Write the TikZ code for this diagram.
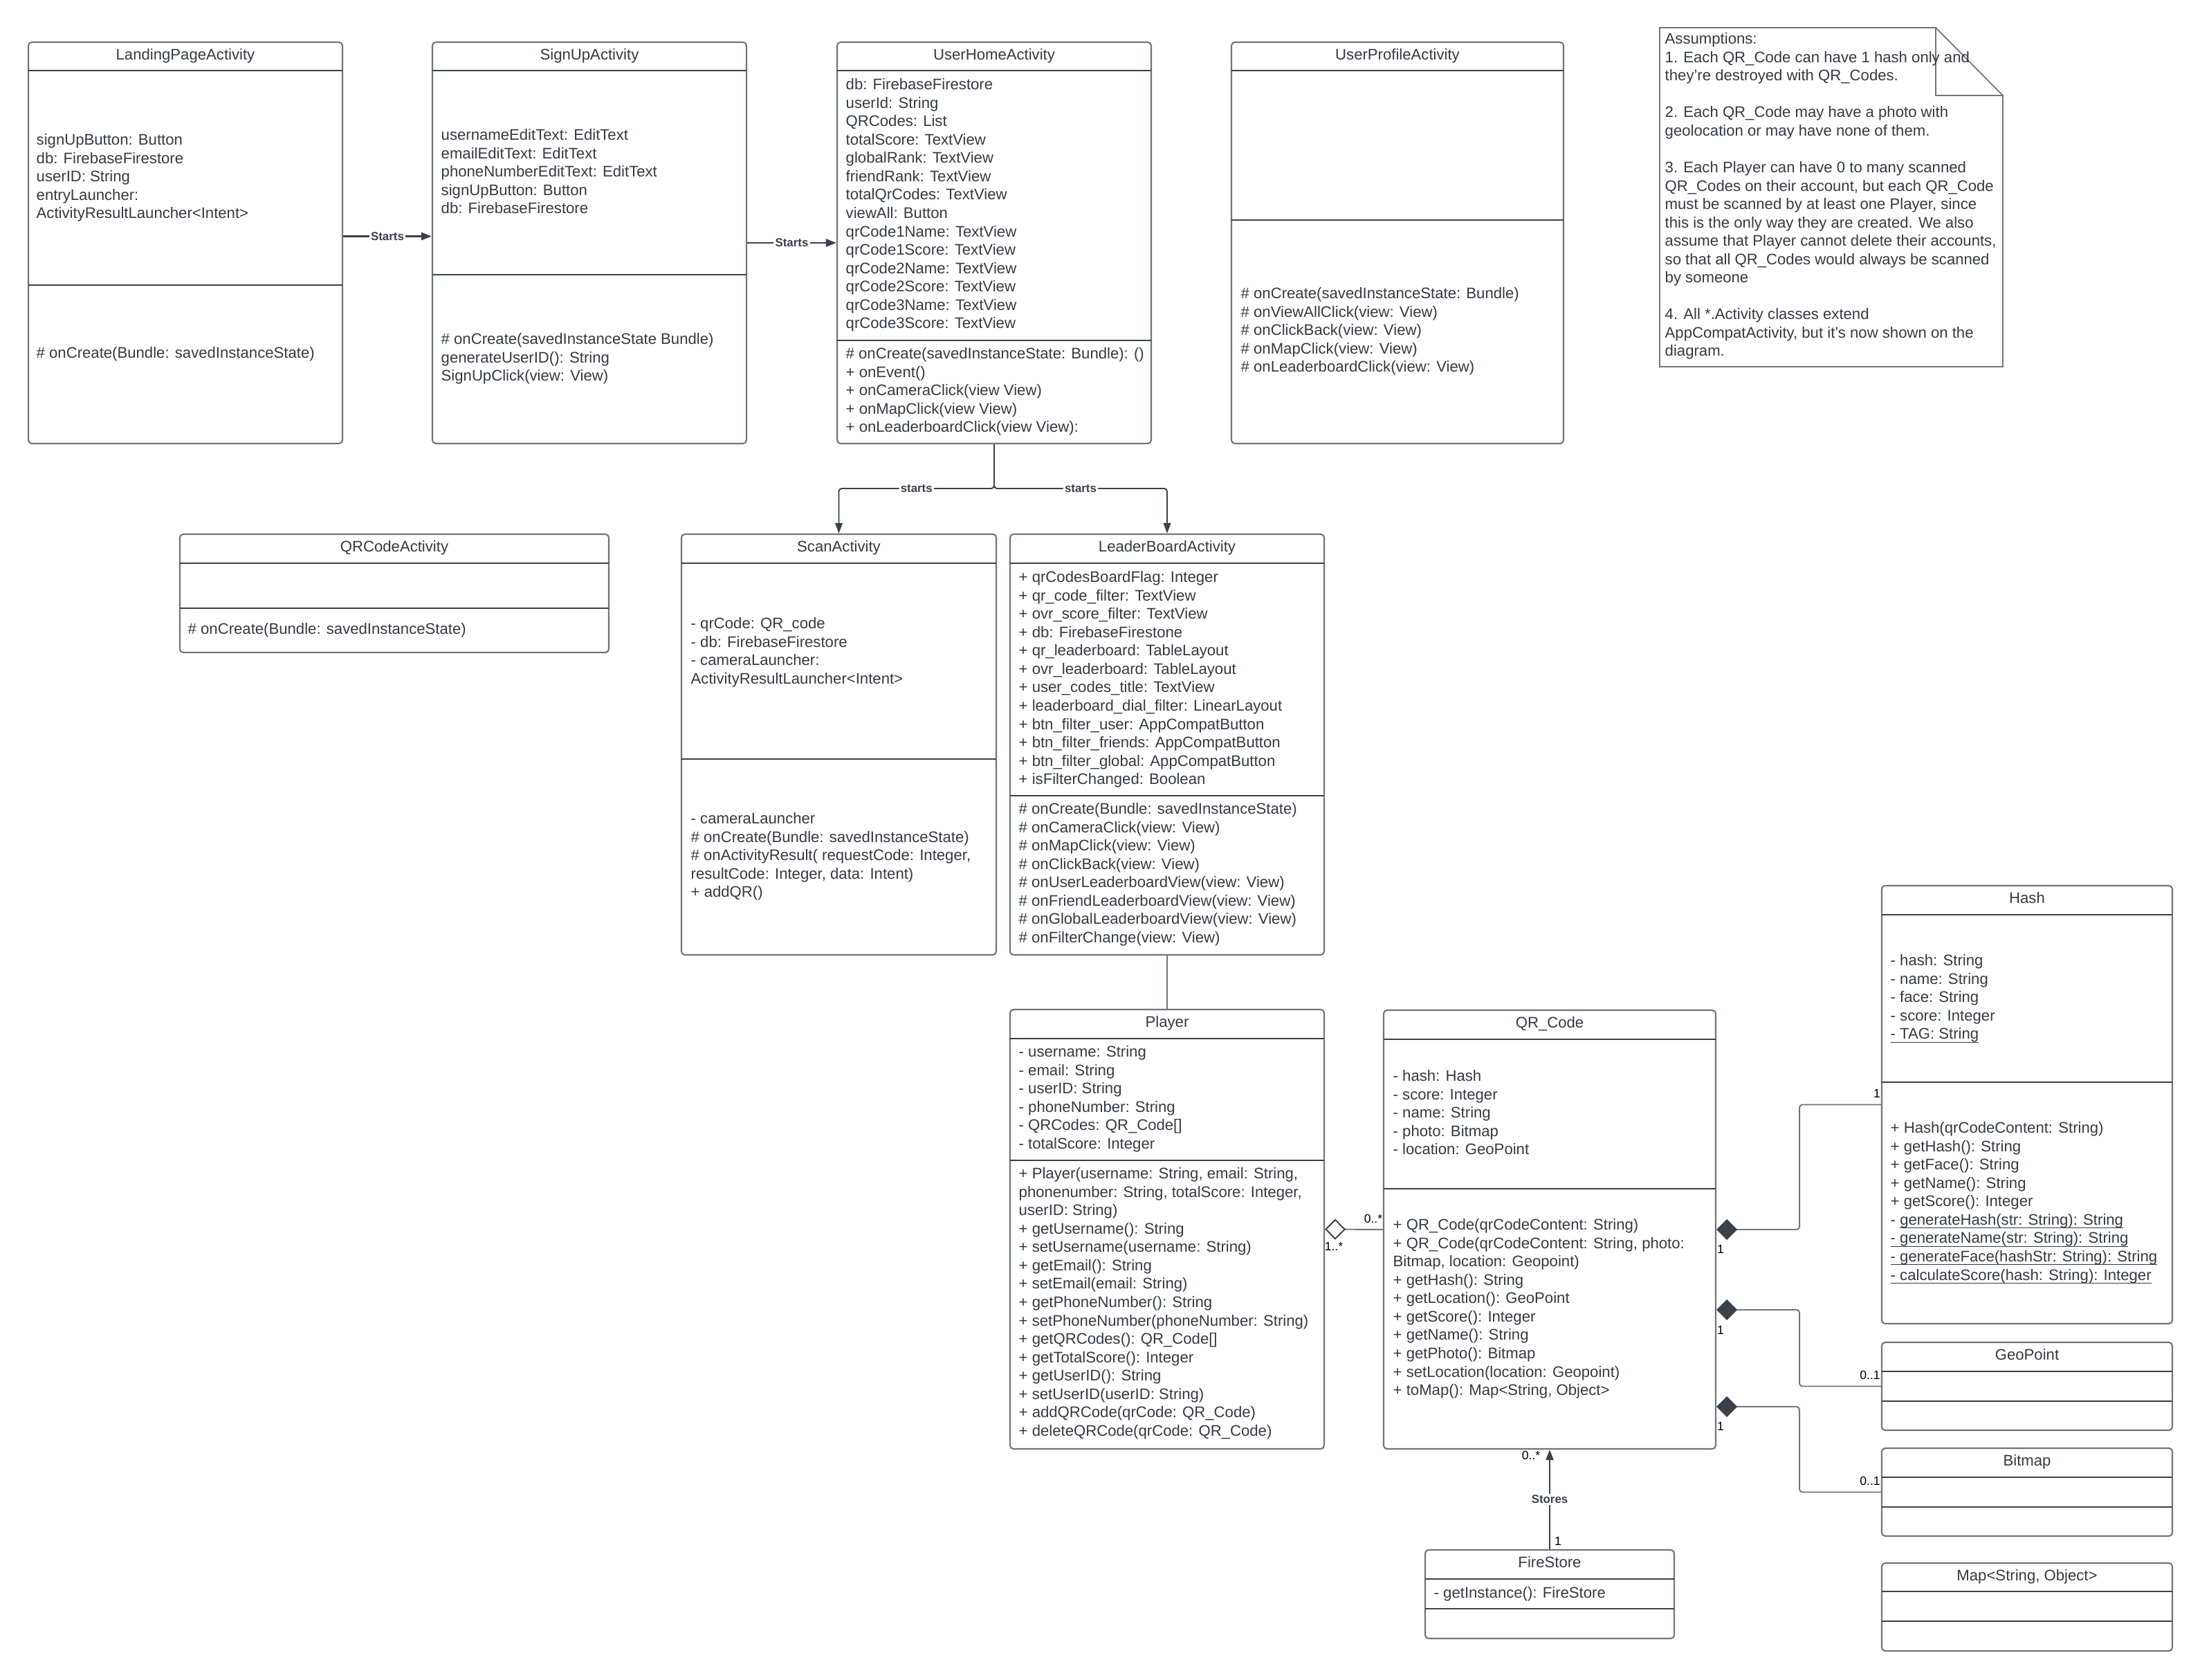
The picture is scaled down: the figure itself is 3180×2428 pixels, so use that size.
\documentclass[tikz,border=0pt]{standalone}
\usepackage{fontspec}
\setmainfont{Liberation Sans}
\usetikzlibrary{arrows.meta,fit,calc}
\definecolor{framegray}{RGB}{112,117,125}
\definecolor{inkdark}{RGB}{58,65,74}
\definecolor{textdark}{RGB}{52,58,66}
\newsavebox\staticbox
\newcommand{\staticul}[1]{\sbox\staticbox{#1}\usebox\staticbox\llap{\rule[-1.4pt]{\wd\staticbox}{0.35pt}}}
\begin{document}
\begin{tikzpicture}
[x=0.1mm,y=-0.1mm,
  classbox/.style={draw=framegray,line width=0.6pt,rounded corners=1.4pt,inner sep=0pt},
  divline/.style={draw=inkdark,line width=0.55pt},
  titletext/.style={anchor=base,inner sep=0pt,text=textdark,font=\fontsize{6.3}{7.55}\selectfont},
  membertext/.style={anchor=north west,inner sep=0pt,align=left,text=textdark,font=\fontsize{6.3}{7.55}\selectfont},
  multtext/.style={inner sep=0pt,font=\fontsize{5}{6}\selectfont},
  linklabel/.style={fill=white,inner sep=0.6pt,text=inkdark,font=\fontsize{4.8}{6}\selectfont\bfseries},
  startsarrow/.style={draw=inkdark,line width=0.8pt,-{Triangle[length=1.5mm,width=1.1mm]}},
  thinarrow/.style={draw=inkdark,line width=0.55pt,rounded corners=1.2pt,-{Triangle[length=1.5mm,width=1.05mm]}},
  plainlink/.style={draw=framegray,line width=0.55pt},
  agglink/.style={draw=framegray,line width=0.55pt,{Diamond[open,length=3mm,width=3mm,color=inkdark,fill=white]}-},
  complink/.style={draw=framegray,line width=0.55pt,rounded corners=1.2pt,{Diamond[length=3mm,width=3mm,color=inkdark]}-},
  notedraw/.style={draw=framegray,line width=0.5pt}]
\path[use as bounding box,fill=white] (0,0) rectangle (3180,2428);
% class boxes
\node (lpa) [classbox,fit={(41,61) (495,641)}] {};
\node (sua) [classbox,fit={(625,61) (1079,641)}] {};
\node (uha) [classbox,fit={(1210,61) (1664,641)}] {};
\node (upa) [classbox,fit={(1780,61) (2260,641)}] {};
\node (qca) [classbox,fit={(260,772) (880,943)}] {};
\node (sca) [classbox,fit={(985,772) (1440,1380)}] {};
\node (lba) [classbox,fit={(1460,772) (1914,1380)}] {};
\node (player) [classbox,fit={(1460,1459) (1914,2094)}] {};
\node (qrcode) [classbox,fit={(2000,1460) (2480,2094)}] {};
\node (hash) [classbox,fit={(2720,1280) (3140,1913)}] {};
\node (geopoint) [classbox,fit={(2720,1940) (3140,2067)}] {};
\node (bitmap) [classbox,fit={(2720,2093) (3140,2220)}] {};
\node (mapobj) [classbox,fit={(2720,2259) (3140,2386)}] {};
\node (firestore) [classbox,fit={(2060,2240) (2420,2368)}] {};
% compartments
\draw[divline] (41,102) -- (495,102) (41,412) -- (495,412);
\draw[divline] (625,102) -- (1079,102) (625,397) -- (1079,397);
\draw[divline] (1210,102) -- (1664,102) (1210,492) -- (1664,492);
\draw[divline] (1780,102) -- (2260,102) (1780,318) -- (2260,318);
\draw[divline] (260,814) -- (880,814) (260,879) -- (880,879);
\draw[divline] (985,814) -- (1440,814) (985,1097) -- (1440,1097);
\draw[divline] (1460,814) -- (1914,814) (1460,1150) -- (1914,1150);
\draw[divline] (1460,1501) -- (1914,1501) (1460,1677) -- (1914,1677);
\draw[divline] (2000,1502) -- (2480,1502) (2000,1718) -- (2480,1718);
\draw[divline] (2720,1322) -- (3140,1322) (2720,1564) -- (3140,1564);
\draw[divline] (2720,1982) -- (3140,1982) (2720,2025) -- (3140,2025);
\draw[divline] (2720,2135) -- (3140,2135) (2720,2178) -- (3140,2178);
\draw[divline] (2720,2300) -- (3140,2300) (2720,2343) -- (3140,2343);
\draw[divline] (2060,2282) -- (2420,2282) (2060,2325) -- (2420,2325);
% titles
\node (lpatitle) [titletext] at ($(lpa.north)+(0,27)$) {LandingPageActivity};
\node (suatitle) [titletext] at ($(sua.north)+(0,27)$) {SignUpActivity};
\node (uhatitle) [titletext] at ($(uha.north)+(0,27)$) {UserHomeActivity};
\node (upatitle) [titletext] at ($(upa.north)+(0,27)$) {UserProfileActivity};
\node (qcatitle) [titletext] at ($(qca.north)+(0,27)$) {QRCodeActivity};
\node (scatitle) [titletext] at ($(sca.north)+(0,27)$) {ScanActivity};
\node (lbatitle) [titletext] at ($(lba.north)+(0,27)$) {LeaderBoardActivity};
\node (playertitle) [titletext] at ($(player.north)+(0,27)$) {Player};
\node (qrtitle) [titletext] at ($(qrcode.north)+(0,27)$) {QR\_Code};
\node (hashtitle) [titletext] at ($(hash.north)+(0,27)$) {Hash};
\node (geotitle) [titletext] at ($(geopoint.north)+(0,27)$) {GeoPoint};
\node (bmptitle) [titletext] at ($(bitmap.north)+(0,27)$) {Bitmap};
\node (maptitle) [titletext] at ($(mapobj.north)+(0,27)$) {Map<String, Object>};
\node (fstitle) [titletext] at ($(firestore.north)+(0,27)$) {FireStore};
% members
\node (lpaattr) [membertext] at (52,193) {signUpButton: Button\\db: FirebaseFirestore\\userID: String\\entryLauncher:\\ActivityResultLauncher<Intent>};
\node (lpaop) [membertext] at (52,501) {\# onCreate(Bundle: savedInstanceState)};
\node (suaattr) [membertext] at (637,186) {usernameEditText: EditText\\emailEditText: EditText\\phoneNumberEditText: EditText\\signUpButton: Button\\db: FirebaseFirestore};
\node (suaop) [membertext] at (637,481) {\# onCreate(savedInstanceState Bundle)\\generateUserID(): String\\SignUpClick(view: View)};
\node (uhaattr) [membertext] at (1222,113) {db: FirebaseFirestore\\userId: String\\QRCodes: List\\totalScore: TextView\\globalRank: TextView\\friendRank: TextView\\totalQrCodes: TextView\\viewAll: Button\\qrCode1Name: TextView\\qrCode1Score: TextView\\qrCode2Name: TextView\\qrCode2Score: TextView\\qrCode3Name: TextView\\qrCode3Score: TextView};
\node (uhaop) [membertext] at (1222,502) {\# onCreate(savedInstanceState: Bundle): ()\\+ onEvent()\\+ onCameraClick(view View)\\+ onMapClick(view View)\\+ onLeaderboardClick(view View):};
\node (upaop) [membertext] at (1793,415) {\# onCreate(savedInstanceState: Bundle)\\\# onViewAllClick(view: View)\\\# onClickBack(view: View)\\\# onMapClick(view: View)\\\# onLeaderboardClick(view: View)};
\node (qcaop) [membertext] at (271,900) {\# onCreate(Bundle: savedInstanceState)};
\node (scaattr) [membertext] at (998,892) {- qrCode: QR\_code\\- db: FirebaseFirestore\\- cameraLauncher:\\ActivityResultLauncher<Intent>};
\node (scaop) [membertext] at (998,1174) {- cameraLauncher\\\# onCreate(Bundle: savedInstanceState)\\\# onActivityResult( requestCode: Integer,\\resultCode: Integer, data: Intent)\\+ addQR()};
\node (lbaattr) [membertext] at (1472,825) {+ qrCodesBoardFlag: Integer\\+ qr\_code\_filter: TextView\\+ ovr\_score\_filter: TextView\\+ db: FirebaseFirestone\\+ qr\_leaderboard: TableLayout\\+ ovr\_leaderboard: TableLayout\\+ user\_codes\_title: TextView\\+ leaderboard\_dial\_filter: LinearLayout\\+ btn\_filter\_user: AppCompatButton\\+ btn\_filter\_friends: AppCompatButton\\+ btn\_filter\_global: AppCompatButton\\+ isFilterChanged: Boolean};
\node (lbaop) [membertext] at (1472,1160) {\# onCreate(Bundle: savedInstanceState)\\\# onCameraClick(view: View)\\\# onMapClick(view: View)\\\# onClickBack(view: View)\\\# onUserLeaderboardView(view: View)\\\# onFriendLeaderboardView(view: View)\\\# onGlobalLeaderboardView(view: View)\\\# onFilterChange(view: View)};
\node (playerattr) [membertext] at (1472,1511) {- username: String\\- email: String\\- userID: String\\- phoneNumber: String\\- QRCodes: QR\_Code[]\\- totalScore: Integer};
\node (playerop) [membertext] at (1472,1687) {+ Player(username: String, email: String,\\phonenumber: String, totalScore: Integer,\\userID: String)\\+ getUsername(): String\\+ setUsername(username: String)\\+ getEmail(): String\\+ setEmail(email: String)\\+ getPhoneNumber(): String\\+ setPhoneNumber(phoneNumber: String)\\+ getQRCodes(): QR\_Code[]\\+ getTotalScore(): Integer\\+ getUserID(): String\\+ setUserID(userID: String)\\+ addQRCode(qrCode: QR\_Code)\\+ deleteQRCode(qrCode: QR\_Code)};
\node (qrattr) [membertext] at (2013,1546) {- hash: Hash\\- score: Integer\\- name: String\\- photo: Bitmap\\- location: GeoPoint};
\node (qrop) [membertext] at (2013,1761) {+ QR\_Code(qrCodeContent: String)\\+ QR\_Code(qrCodeContent: String, photo:\\Bitmap, location: Geopoint)\\+ getHash(): String\\+ getLocation(): GeoPoint\\+ getScore(): Integer\\+ getName(): String\\+ getPhoto(): Bitmap\\+ setLocation(location: Geopoint)\\+ toMap(): Map<String, Object>};
\node (hashattr) [membertext] at (2732,1379) {- hash: String\\- name: String\\- face: String\\- score: Integer\\\staticul{- TAG: String}};
\node (hashop) [membertext] at (2732,1621) {+ Hash(qrCodeContent: String)\\+ getHash(): String\\+ getFace(): String\\+ getName(): String\\+ getScore(): Integer\\- \staticul{generateHash(str: String): String}\\\staticul{- generateName(str: String): String}\\\staticul{- generateFace(hashStr: String): String}\\\staticul{- calculateScore(hash: String): Integer}};
\node (fsop) [membertext] at (2072,2293) {- getInstance(): FireStore};
% note with assumptions
\draw[notedraw] (2399,40) -- (2798,40) -- (2895,138) -- (2895,530) -- (2399,530) -- cycle;
\draw[notedraw] (2798,40) -- (2798,138) -- (2895,138);
\node (note) [membertext] at (2406,47) {Assumptions:\\1. Each QR\_Code can have 1 hash only and\\they're destroyed with QR\_Codes.\\[7.55pt]2. Each QR\_Code may have a photo with\\geolocation or may have none of them.\\[7.55pt]3. Each Player can have 0 to many scanned\\QR\_Codes on their account, but each QR\_Code\\must be scanned by at least one Player, since\\this is the only way they are created. We also\\assume that Player cannot delete their accounts,\\so that all QR\_Codes would always be scanned\\by someone\\[7.55pt]4. All *.Activity classes extend\\AppCompatActivity, but it's now shown on the\\diagram.};
% connectors
\coordinate (fork) at (1437,706);
\draw[startsarrow] ([yshift=0.95mm]lpa.east) -- node (lbls1) [linklabel] {Starts} ([yshift=0.95mm]lpa.east -| sua.west);
\draw[startsarrow] (sua.east) -- node (lbls2) [linklabel] {Starts} (uha.west);
\draw[thinarrow] (uha.south) -- (fork) -| node (lbls3) [linklabel,pos=0.25] {starts} (sca.north);
\draw[thinarrow] (uha.south) -- (fork) -| node (lbls4) [linklabel,pos=0.25] {starts} (lba.north);
\draw[plainlink] (lba.south) -- (player.north);
\draw[agglink] (player.east) -- (qrcode.west);
\draw[complink] (qrcode.east) -- ++(120,0) |- (hash.west);
\draw[complink] ([yshift=-11.6mm]qrcode.east) -- ++(120,0) |- (geopoint.west);
\draw[complink] ([yshift=-25.6mm]qrcode.east) -- ++(120,0) |- (bitmap.west);
\draw[startsarrow,line width=0.7pt] (firestore.north) -- node (lblstores) [linklabel] {Stores} (qrcode.south);
% multiplicities
\node (m1) [multtext] at (1928,1801) {1..*};
\node (m2) [multtext] at (1985,1761) {0..*};
\node (m3) [multtext] at (2487,1805) {1};
\node (m4) [multtext] at (2713,1580) {1};
\node (m5) [multtext] at (2487,1922) {1};
\node (m6) [multtext] at (2703,1987) {0..1};
\node (m7) [multtext] at (2487,2061) {1};
\node (m8) [multtext] at (2703,2140) {0..1};
\node (m9) [multtext] at (2213,2103) {0..*};
\node (m10) [multtext] at (2252,2227) {1};
\end{tikzpicture}
\end{document}
